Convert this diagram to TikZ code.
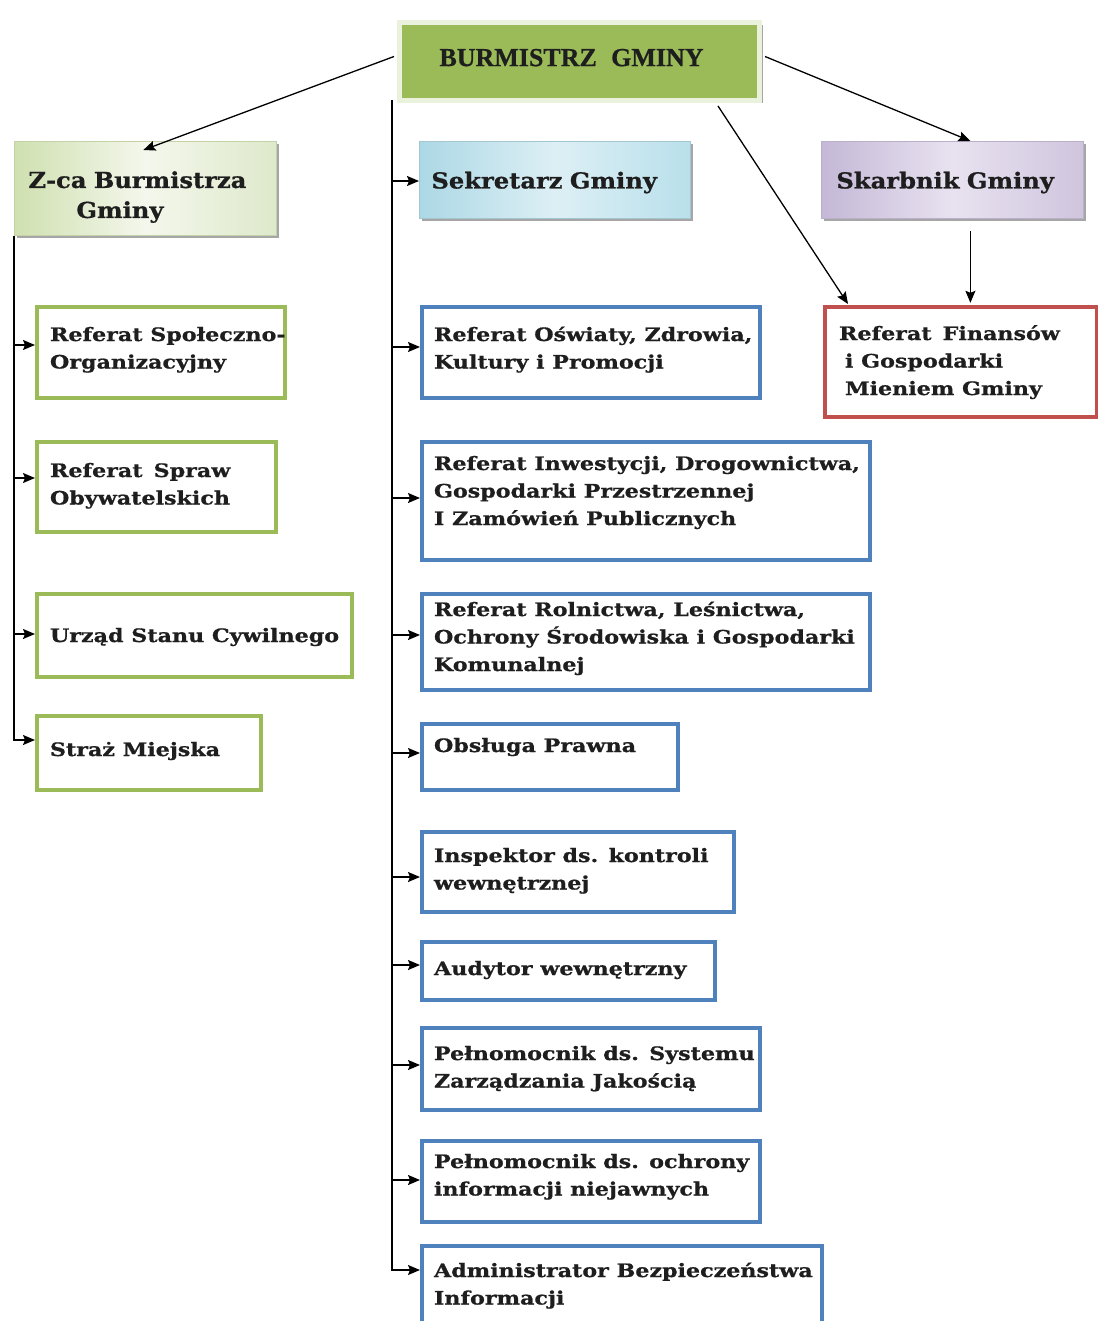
\documentclass[tikz,border=0pt]{standalone}
\usepackage{fontspec}
\setmainfont{DejaVu Serif}
\newfontfamily\bodyfam{DejaVu Serif}[FakeStretch=1.2,BoldFeatures={FakeBold=0.8}]
\newfontfamily\hdrfam{DejaVu Serif}[FakeStretch=1.1,BoldFeatures={FakeBold=0.8}]
\newfontfamily\tmsfont{Liberation Serif}[BoldFeatures={FakeBold=0.6}]
\usetikzlibrary{arrows.meta,shadows,calc}
\definecolor{grn}{RGB}{155,187,89}
\definecolor{blu}{RGB}{79,129,189}
\definecolor{redb}{RGB}{192,80,77}
\definecolor{txt}{RGB}{30,30,30}
\definecolor{topfill}{RGB}{155,187,89}
\definecolor{toprim}{RGB}{234,241,221}
\definecolor{zA}{RGB}{207,224,176}
\definecolor{zB}{RGB}{244,247,236}
\definecolor{zC}{RGB}{222,233,203}
\definecolor{sA}{RGB}{172,216,229}
\definecolor{sB}{RGB}{221,239,245}
\definecolor{sC}{RGB}{185,224,235}
\definecolor{kA}{RGB}{196,184,214}
\definecolor{kB}{RGB}{232,226,240}
\definecolor{kC}{RGB}{207,197,222}
\newcommand\bodyf{\bodyfam\fontsize{18.5}{27.5}\selectfont\bfseries}
\newcommand\hdrf{\hdrfam\fontsize{22}{30}\selectfont\bfseries}
\newcommand\lin[1]{\mbox{#1}\par}
\newcommand\BX[9]{%
 \node[#1,anchor=north west,inner sep=0pt,text=txt] (#2) at (#3,#4)
 {\begin{minipage}[t][#6pt][t]{#5pt}\vspace*{\dimexpr#7pt-5pt\relax}\bodyf\leftskip=#8pt\relax\leavevmode\rule{0pt}{18pt}#9\end{minipage}};}
\tikzset{
 arr/.style={-{Stealth[length=12pt,width=10pt,inset=2pt]},line width=1.3pt,draw=black},
 ln/.style={line width=1.3pt,draw=black},
 gbox/.style={draw=grn,line width=4pt,fill=white},
 bbox/.style={draw=blu,line width=4pt,fill=white},
 rbox/.style={draw=redb,line width=4pt,fill=white},
 hdr/.style={anchor=north west,inner ysep=0pt,text=txt,font=\hdrf,align=left,
   drop shadow={shadow xshift=3pt,shadow yshift=-3pt,opacity=0.35,fill=black}},
}
\begin{document}
\begin{tikzpicture}[x=1pt,y=-1pt]
\useasboundingbox (0,0) rectangle (1097,1321);
\fill[white] (0,0) rectangle (1097,1321);

% header row
\node[hdr,draw=toprim,line width=5pt,fill=topfill,minimum width=360pt,minimum height=78pt,
  align=center,font=\tmsfont\bfseries\fontsize{26}{30}\selectfont] (top) at (397,20)
  {\rule[-8pt]{0pt}{8pt}BURMISTRZ\hspace{0.55em}GMINY\hspace*{16pt}};
\node[hdr,left color=zA,right color=zC,middle color=zB,draw=zA!85!gray,line width=0.8pt,
  minimum height=94pt,text width=234pt,inner xsep=14pt] (zca) at (14,141)
  {\rule{0pt}{34pt}Z-ca Burmistrza\\\hspace*{48pt}Gminy};
\node[hdr,left color=sA,right color=sC,middle color=sB,draw=sA!80!gray,line width=0.8pt,
  minimum height=77pt,text width=247pt,inner xsep=12pt] (sek) at (419,141)
  {\rule{0pt}{22pt}Sekretarz Gminy};
\node[hdr,left color=kA,right color=kC,middle color=kB,draw=kA!85!gray,line width=0.8pt,
  minimum height=77pt,text width=232pt,inner xsep=15pt] (skarb) at (821,141)
  {\rule{0pt}{22pt}Skarbnik Gminy};

% red box
\BX{rbox}{fin}{823}{305}{272}{110}{20}{14}{\lin{Referat\hspace{0.6em}Finansów}\lin{\hspace{6pt}i Gospodarki}\lin{\hspace{6pt}Mieniem Gminy}}

% left column
\BX{gbox}{soc}{35}{305}{248}{91}{21}{13}{\lin{Referat Społeczno-}\lin{Organizacyjny}}
\BX{gbox}{spr}{35}{440}{239}{90}{22}{13}{\lin{Referat\hspace{0.6em}Spraw}\lin{Obywatelskich}}
\BX{gbox}{usc}{35}{592}{315}{83}{35}{13}{\lin{Urząd Stanu Cywilnego}}
\BX{gbox}{straz}{35}{714}{224}{74}{27}{13}{\lin{Straż Miejska}}

% middle column
\BX{bbox}{osw}{420}{305}{338}{91}{21}{12}{\lin{Referat Oświaty, Zdrowia,}\lin{Kultury i Promocji}}
\BX{bbox}{inw}{420}{440}{448}{118}{15}{12}{\lin{Referat Inwestycji, Drogownictwa,}\lin{Gospodarki Przestrzennej}\lin{I Zamówień\hspace{0.4em}Publicznych}}
\BX{bbox}{rol}{420}{592}{448}{96}{9}{12}{\lin{Referat Rolnictwa, Leśnictwa,}\lin{Ochrony Środowiska i Gospodarki}\lin{Komunalnej}}
\BX{bbox}{obs}{420}{722}{256}{66}{15}{12}{\lin{Obsługa Prawna}}
\BX{bbox}{insp}{420}{830}{312}{80}{17}{12}{\lin{Inspektor ds. kontroli}\lin{wewnętrznej}}
\BX{bbox}{aud}{420}{940}{293}{58}{20}{12}{\lin{Audytor wewnętrzny}}
\BX{bbox}{pels}{420}{1026}{338}{82}{19}{12}{\lin{Pełnomocnik ds. Systemu}\lin{Zarządzania Jakością}}
\BX{bbox}{pelo}{420}{1139}{338}{81}{14}{12}{\lin{Pełnomocnik ds. ochrony}\lin{informacji niejawnych}}
\BX{bbox}{adm}{420}{1244}{400}{100}{18}{12}{\lin{Administrator Bezpieczeństwa}\lin{Informacji}}

% connectors from the top
\draw[arr] ($(top.west)+(-3,-5)$) -- ($(zca.north)+(-2,9)$);
\draw[arr] ($(top.east)+(3,-5)$) -- ($(skarb.north)+(18,0)$);
\draw[arr] ($(top.south east)+(-44,3)$) -- ($(fin.north west)+(25,-1)$);
\draw[arr] ($(skarb.south)+(18,12)$) -- ($(skarb.south)+(18,84)$);

% left trunk
\coordinate (l1) at (14,345);
\coordinate (l2) at (14,478);
\coordinate (l3) at (14,634);
\coordinate (l4) at (14,740);
\draw[ln] (zca.south west) -- (l3);
\draw[arr] (l1) -- (l1 -| soc.west);
\draw[arr] (l2) -- (l2 -| spr.west);
\draw[arr] (l3) -- (l3 -| usc.west);
\draw[arr] (l3) -- (l4) -- (l4 -| straz.west);

% middle trunk
\coordinate (m0) at (392,100);
\coordinate (m1) at (392,181);
\coordinate (m2) at (392,347);
\coordinate (m3) at (392,498);
\coordinate (m4) at (392,635);
\coordinate (m5) at (392,753);
\coordinate (m6) at (392,877);
\coordinate (m7) at (392,965);
\coordinate (m8) at (392,1065);
\coordinate (m9) at (392,1180);
\coordinate (m10) at (392,1270);
\draw[ln] (m0) -- (m9);
\draw[arr] (m1) -- (m1 -| sek.west);
\draw[arr] (m2) -- (m2 -| osw.west);
\draw[arr] (m3) -- (m3 -| inw.west);
\draw[arr] (m4) -- (m4 -| rol.west);
\draw[arr] (m5) -- (m5 -| obs.west);
\draw[arr] (m6) -- (m6 -| insp.west);
\draw[arr] (m7) -- (m7 -| aud.west);
\draw[arr] (m8) -- (m8 -| pels.west);
\draw[arr] (m9) -- (m9 -| pelo.west);
\draw[arr] (m9) -- (m10) -- (m10 -| adm.west);
\end{tikzpicture}
\end{document}
